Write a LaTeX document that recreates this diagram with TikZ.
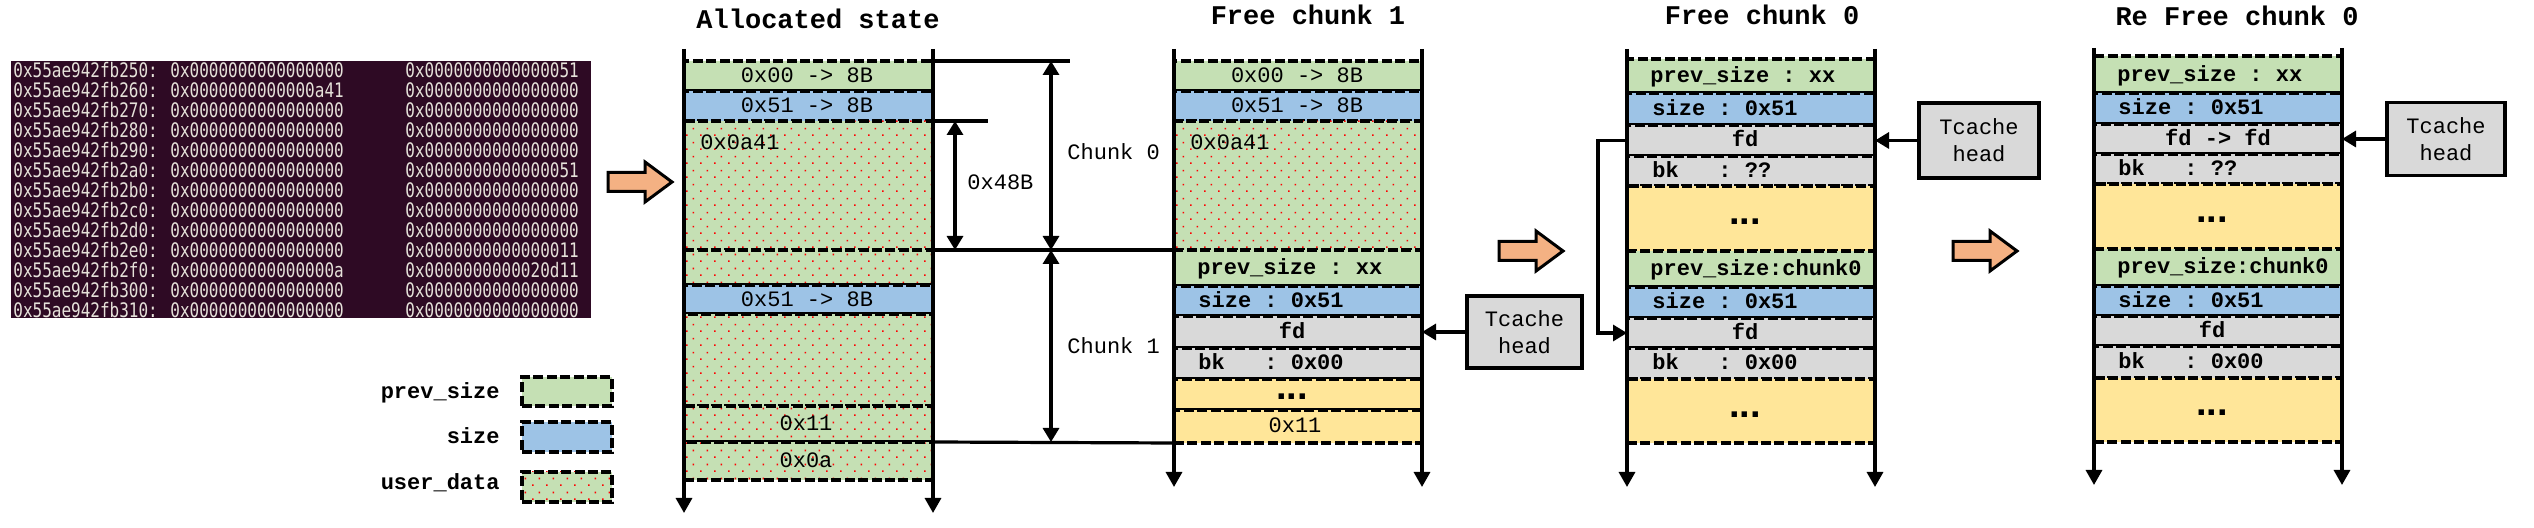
\documentclass[tikz,border=0pt]{standalone}
\usepackage{fontspec}
\setmonofont{Liberation Mono}
\newfontfamily\termfont[FakeStretch=0.8]{DejaVu Sans Mono}
\newfontfamily\dotfont{Liberation Sans}
\usetikzlibrary{arrows.meta,patterns.meta,calc}
\definecolor{cgreen}{HTML}{C5E0B4}
\definecolor{cblue}{HTML}{9DC3E6}
\definecolor{cgray}{HTML}{D9D9D9}
\definecolor{cyellow}{HTML}{FFE699}
\definecolor{corange}{HTML}{F4B183}
\definecolor{termbg}{HTML}{2E0A24}
\definecolor{termfg}{HTML}{E6E2DA}
\tikzdeclarepattern{
  name=reddots,
  type=uncolored,
  bottom left={(0pt,0pt)},
  top right={(7pt,7pt)},
  tile size={(7pt,7pt)},
  code={
    \pgfpathrectangle{\pgfpoint{0pt}{0pt}}{\pgfpoint{0.85pt}{0.85pt}}
    \pgfpathrectangle{\pgfpoint{3.5pt}{3.5pt}}{\pgfpoint{0.85pt}{0.85pt}}
    \pgfusepath{fill}
  }
}
\tikzset{
  cellbox/.style={draw, line width=1.8pt, dash pattern=on 5pt off 1.7pt, inner sep=0pt, outer sep=0pt},
  gcell/.style={fill=cgreen},
  bcell/.style={fill=cblue},
  kcell/.style={fill=cgray},
  ycell/.style={fill=cyellow},
  dcell/.style={pattern=reddots, pattern color=red, preaction={fill=cgreen}},
  rail/.style={line width=1.6pt, -{Triangle[width=8pt,length=7.5pt]}},
  dimarrow/.style={line width=1.6pt, {Triangle[width=8pt,length=7pt]}-{Triangle[width=8pt,length=7pt]}},
  ptr/.style={line width=1.6pt, -{Triangle[width=8pt,length=7pt]}},
  guide/.style={line width=1.6pt},
  ttl/.style={font=\ttfamily\bfseries\fontsize{13.5}{16}\selectfont, anchor=base, inner sep=0pt},
  tx/.style={font=\ttfamily\fontsize{11}{13}\selectfont, inner sep=0pt, text height=6.5pt, text depth=0pt},
  tb/.style={font=\ttfamily\bfseries\fontsize{11}{13}\selectfont, inner sep=0pt, text height=6.5pt, text depth=0pt},
  ellip/.style={font=\dotfont\bfseries\fontsize{19}{20}\selectfont, inner sep=0pt, anchor=base},
  tcbox/.style={draw, line width=1.7pt, fill=cgray, inner sep=0pt, align=center, font=\ttfamily\fontsize{11}{13.5}\selectfont},
  termtxt/.style={font=\termfont\fontsize{10}{10}\selectfont, text=termfg, inner sep=0pt, text height=7.2pt, text depth=0pt, anchor=west},
  oarrow/.style={draw, line width=1.5pt, fill=corange, line join=miter},
}
\newcommand\cell[6]{\node[cellbox,#2,minimum width={(#5-#3)*0.5pt},minimum height={(#6-#4)*0.5pt},anchor=north west] (#1) at (#3,#4) {};}
\newcommand\orangearrow[2]{\filldraw[oarrow] (#1,{#2-9.5}) -- ({#1+37},{#2-9.5}) -- ({#1+37},{#2-20}) -- ({#1+64},#2) -- ({#1+37},{#2+20}) -- ({#1+37},{#2+9.5}) -- (#1,{#2+9.5}) -- cycle;}
\begin{document}
\begin{tikzpicture}[x=0.5pt,y=-0.5pt]
\useasboundingbox[fill=white] (0,0) rectangle (2534,528);

% terminal
\node[fill=termbg, minimum width={580*0.5pt}, minimum height={257*0.5pt}, inner sep=0pt, anchor=north west] (term) at (11,61) {};
\foreach \a/\b/\c [count=\i from 0] in {
  250/0000000000000000/0000000000000051,
  260/0000000000000a41/0000000000000000,
  270/0000000000000000/0000000000000000,
  280/0000000000000000/0000000000000000,
  290/0000000000000000/0000000000000000,
  2a0/0000000000000000/0000000000000051,
  2b0/0000000000000000/0000000000000000,
  2c0/0000000000000000/0000000000000000,
  2d0/0000000000000000/0000000000000000,
  2e0/0000000000000000/0000000000000011,
  2f0/000000000000000a/0000000000020d11,
  300/0000000000000000/0000000000000000,
  310/0000000000000000/0000000000000000}{
  \node[termtxt] (ta\i) at (13,{70+20*\i}) {0x55ae942fb\a:};
  \node[termtxt] (tb\i) at (170,{70+20*\i}) {0x\b};
  \node[termtxt] (tc\i) at (405,{70+20*\i}) {0x\c};
}

% orange arrows
\orangearrow{608}{182}
\orangearrow{1499}{251}
\orangearrow{1953}{251}

% titles
\node[ttl] (t1) at (818,29) {Allocated state};
\node[ttl] (t2) at (1308,25) {Free chunk 1};
\node[ttl] (t3) at (1762,25) {Free chunk 0};
\node[ttl] (t4) at (2237,26) {Re Free chunk 0};

% Allocated state
\cell{a1}{gcell}{684}{61}{933}{91}
\cell{a2}{bcell}{684}{91}{933}{121}
\cell{a3}{dcell}{684}{121}{933}{250}
\cell{a4}{dcell}{684}{250}{933}{285}
\cell{a5}{bcell}{684}{285}{933}{314}
\cell{a6}{dcell}{684}{314}{933}{406}
\cell{a7}{dcell}{684}{406}{933}{442}
\cell{a8}{dcell}{684}{442}{933}{480}
\node[tx] (a1t) at (807,76) {0x00 -> 8B};
\node[tx] (a2t) at (807,106) {0x51 -> 8B};
\node[tx, anchor=west] (a3t) at (700,143) {0x0a41};
\node[tx] (a5t) at (807,300) {0x51 -> 8B};
\node[tx] (a7t) at (806,424) {0x11};
\node[tx] (a8t) at (806,461) {0x0a};

% Free chunk 1
\cell{b1}{gcell}{1174}{61}{1422}{91}
\cell{b2}{bcell}{1174}{91}{1422}{121}
\cell{b3}{dcell}{1174}{121}{1422}{250}
\cell{b4}{gcell}{1174}{250}{1422}{286}
\cell{b5}{bcell}{1174}{286}{1422}{316}
\cell{b6}{kcell}{1174}{316}{1422}{348}
\cell{b7}{kcell}{1174}{348}{1422}{379}
\cell{b8}{ycell}{1174}{379}{1422}{410}
\cell{b9}{ycell}{1174}{410}{1422}{443}
\node[tx] (b1t) at (1297,76) {0x00 -> 8B};
\node[tx] (b2t) at (1297,106) {0x51 -> 8B};
\node[tx, anchor=west] (b3t) at (1190,143) {0x0a41};
\node[tb, anchor=west] (b4t) at (1197,268) {prev\_size : xx};
\node[tb, anchor=west] (b5t) at (1198,301) {size : 0x51};
\node[tb] (b6t) at (1292,332) {fd};
\node[tb, anchor=west] (b7t) at (1198,363.5) {bk\ \ \ : 0x00};
\node[ellip] (b8t) at (1292,400) {...};
\node[tx] (b9t) at (1295,426.5) {0x11};

% Free chunk 0
\cell{c1}{gcell}{1627}{59}{1875}{93}
\cell{c2}{bcell}{1627}{93}{1875}{125}
\cell{c3}{kcell}{1627}{125}{1875}{156}
\cell{c4}{kcell}{1627}{156}{1875}{186}
\cell{c5}{ycell}{1627}{186}{1875}{251}
\cell{c6}{gcell}{1627}{251}{1875}{287}
\cell{c7}{bcell}{1627}{287}{1875}{318}
\cell{c8}{kcell}{1627}{318}{1875}{348}
\cell{c9}{kcell}{1627}{348}{1875}{379}
\cell{c10}{ycell}{1627}{379}{1875}{443}
\node[tb, anchor=west] (c1t) at (1650,76) {prev\_size : xx};
\node[tb, anchor=west] (c2t) at (1652,109) {size : 0x51};
\node[tb] (c3t) at (1745,140.5) {fd};
\node[tb, anchor=west] (c4t) at (1652,171) {bk\ \ \ : ??};
\node[ellip] (c5t) at (1745,225) {...};
\node[tb, anchor=west] (c6t) at (1650,269) {prev\_size:chunk0};
\node[tb, anchor=west] (c7t) at (1652,302.5) {size : 0x51};
\node[tb] (c8t) at (1745,333) {fd};
\node[tb, anchor=west] (c9t) at (1652,363.5) {bk\ \ \ : 0x00};
\node[ellip] (c10t) at (1745,418) {...};

% Re Free chunk 0
\cell{d1}{gcell}{2094}{56}{2342}{93}
\cell{d2}{bcell}{2094}{93}{2342}{124}
\cell{d3}{kcell}{2094}{124}{2342}{154}
\cell{d4}{kcell}{2094}{154}{2342}{184}
\cell{d5}{ycell}{2094}{184}{2342}{249}
\cell{d6}{gcell}{2094}{249}{2342}{286}
\cell{d7}{bcell}{2094}{286}{2342}{316}
\cell{d8}{kcell}{2094}{316}{2342}{346}
\cell{d9}{kcell}{2094}{346}{2342}{378}
\cell{d10}{ycell}{2094}{378}{2342}{442}
\node[tb, anchor=west] (d1t) at (2117,75) {prev\_size : xx};
\node[tb, anchor=west] (d2t) at (2118,108.5) {size : 0x51};
\node[tb] (d3t) at (2218,139) {fd -> fd};
\node[tb, anchor=west] (d4t) at (2118,169) {bk\ \ \ : ??};
\node[ellip] (d5t) at (2212,223) {...};
\node[tb, anchor=west] (d6t) at (2117,267) {prev\_size:chunk0};
\node[tb, anchor=west] (d7t) at (2118,301) {size : 0x51};
\node[tb] (d8t) at (2212,331) {fd};
\node[tb, anchor=west] (d9t) at (2118,362) {bk\ \ \ : 0x00};
\node[ellip] (d10t) at (2212,416) {...};

% rails
\coordinate (aL0) at (684,49);  \coordinate (aL1) at (684,513);
\coordinate (aR0) at (933,49);  \coordinate (aR1) at (933,513);
\coordinate (bL0) at (1174,49); \coordinate (bL1) at (1174,487);
\coordinate (bR0) at (1422,49); \coordinate (bR1) at (1422,487);
\coordinate (cL0) at (1627,49); \coordinate (cL1) at (1627,487);
\coordinate (cR0) at (1875,49); \coordinate (cR1) at (1875,487);
\coordinate (dL0) at (2094,48); \coordinate (dL1) at (2094,485);
\coordinate (dR0) at (2342,48); \coordinate (dR1) at (2342,485);
\foreach \p in {aL,aR,bL,bR,cL,cR,dL,dR}{\draw[rail] (\p0) -- (\p1);}

% measurement guides
\coordinate (g1) at (1070,61);
\coordinate (g2) at (988,121);
\draw[guide] (a1.north east) -- (g1);
\draw[guide] (a3.north east) -- (g2);
\draw[guide] (a4.north east) -- (b4.north west);
\draw[guide] (a8.north east) -- (b9.south west);
\coordinate (m1a) at (955,121); \coordinate (m1b) at (955,250);
\coordinate (m2a) at (1051,61); \coordinate (m2b) at (1051,250);
\coordinate (m3a) at (1051,250); \coordinate (m3b) at (1051,442);
\draw[dimarrow] (m1a) -- (m1b);
\draw[dimarrow] (m2a) -- (m2b);
\draw[dimarrow] (m3a) -- (m3b);
\node[tx, anchor=west] (l48) at (967,183) {0x48B};
\node[tx, anchor=west] (lc0) at (1067,153) {Chunk 0};
\node[tx, anchor=west] (lc1) at (1067,347) {Chunk 1};

% Tcache heads
\node[tcbox, minimum width={115*0.5pt}, minimum height={72*0.5pt}] (tc1) at (1524.5,332) {Tcache\\head};
\node[tcbox, minimum width={120*0.5pt}, minimum height={75*0.5pt}] (tc2) at (1979,140.5) {Tcache\\head};
\node[tcbox, minimum width={118*0.5pt}, minimum height={73*0.5pt}] (tc3) at (2446,139) {Tcache\\head};
\draw[ptr] (tc1.west) -- (tc1.west -| b6.east);
\draw[ptr] (tc2.west) -- (tc2.west -| c3.east);
\draw[ptr] (tc3.west) -- (tc3.west -| d3.east);
\draw[ptr] (c3.west) -- ++(-29,0) |- (c8.west);

% legend
\node[tb, anchor=east] (lg1) at (500,392) {prev\_size};
\node[tb, anchor=east] (lg2) at (500,437) {size};
\node[tb, anchor=east] (lg3) at (500,483) {user\_data};
\cell{lb1}{gcell}{522}{377}{612}{406}
\cell{lb2}{bcell}{522}{422}{612}{452}
\cell{lb3}{dcell}{522}{472}{612}{502}
\end{tikzpicture}
\end{document}
